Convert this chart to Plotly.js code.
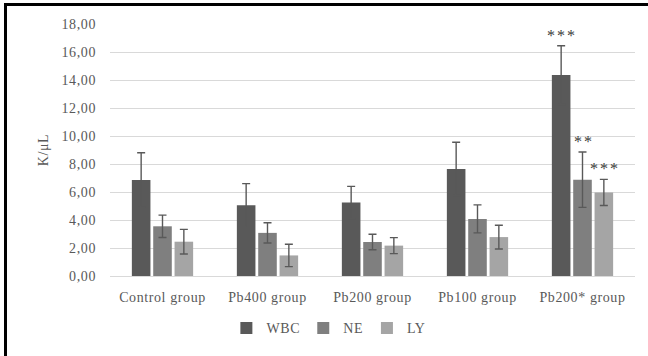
<!DOCTYPE html>
<html>
<head>
<meta charset="utf-8">
<script src="https://cdn.plot.ly/plotly-3.0.1.min.js"></script>
<style>
  html, body { margin: 0; padding: 0; background: #fff; }
  #wrap { position: relative; width: 648px; height: 356px; }
  #chart { position: absolute; left: 0; top: 0; width: 648px; height: 356px; }
  #frame { position: absolute; left: 4px; top: 3px; width: 660px; height: 370px;
           border-left: 3px solid #000; border-top: 3px solid #000; pointer-events: none; }
  #chart svg text { letter-spacing: 0.6px; }
  #chart svg .annotation text { letter-spacing: 2px; }
</style>
</head>
<body>
<div id="wrap">
  <div id="chart"></div>
  <div id="frame"></div>
</div>
<script>
const categories = ["Control group", "Pb400 group", "Pb200 group", "Pb100 group", "Pb200* group"];
const wbc = [6.85, 5.05, 5.25, 7.65, 14.35];
const wbcErr = [1.95, 1.55, 1.15, 1.9, 2.1];
const ne = [3.55, 3.08, 2.43, 4.08, 6.88];
const neErr = [0.8, 0.72, 0.55, 1.0, 1.98];
const ly = [2.45, 1.47, 2.17, 2.78, 5.97];
const lyErr = [0.88, 0.8, 0.57, 0.85, 0.93];
const sigWbc = ["", "", "", "", "***"];
const sigNe = ["", "", "", "", "**"];
const sigLy = ["", "", "", "", "***"];
const yTicks = [0, 2, 4, 6, 8, 10, 12, 14, 16, 18];
const yTickText = ["0,00", "2,00", "4,00", "6,00", "8,00", "10,00", "12,00", "14,00", "16,00", "18,00"];

const FONT = "Liberation Serif, Times New Roman, serif";
const errStyle = { thickness: 1.4, width: 4, color: "#595959" };

function trace(name, vals, errs, color) {
  return {
    type: "bar", name: name, x: categories, y: vals,
    marker: { color: color },
    error_y: Object.assign({ type: "data", array: errs, visible: true }, errStyle),
    hoverinfo: "none"
  };
}

const data = [
  trace("WBC", wbc, wbcErr, "#595959"),
  trace("NE", ne, neErr, "#7f7f7f"),
  trace("LY", ly, lyErr, "#a5a5a5")
];

const slot = 21.3;
const annotations = [];
[[sigWbc, wbc, wbcErr, -slot], [sigNe, ne, neErr, 0], [sigLy, ly, lyErr, slot]].forEach(function (s) {
  s[0].forEach(function (txt, i) {
    if (!txt) return;
    annotations.push({
      x: categories[i], y: s[1][i] + s[2][i], xref: "x", yref: "y",
      text: txt, showarrow: false, xshift: s[3] + 1, yanchor: "bottom", yshift: 0,
      font: { family: FONT, size: 16, color: "#3a3a3a" }
    });
  });
});

const layout = {
  width: 648, height: 356,
  margin: { l: 110, r: 13, t: 24, b: 77 },
  paper_bgcolor: "#fff", plot_bgcolor: "#fff",
  barmode: "group", bargap: 0.39, bargroupgap: 0.13,
  font: { family: FONT, size: 14, color: "#595959" },
  showlegend: true,
  legend: {
    orientation: "h", x: 0.415, xanchor: "center", y: -0.208, yanchor: "middle",
    font: { family: FONT, size: 14, color: "#595959" }, itemwidth: 30
  },
  xaxis: {
    type: "category", showgrid: false, showline: true, linecolor: "#d9d9d9", linewidth: 1,
    ticks: "", ticklabelstandoff: 8, tickfont: { family: FONT, size: 14, color: "#595959" }
  },
  yaxis: {
    range: [0, 18], tickvals: yTicks, ticktext: yTickText,
    showgrid: true, gridcolor: "#d9d9d9", gridwidth: 1, zeroline: false, showline: false,
    ticks: "", ticklabelstandoff: 13, tickfont: { family: FONT, size: 14, color: "#595959" },
    title: { text: "K/μL", standoff: 12, font: { family: FONT, size: 14, color: "#595959" } }
  },
  annotations: annotations
};

Plotly.newPlot("chart", data, layout, { displayModeBar: false, staticPlot: true });
</script>
</body>
</html>
